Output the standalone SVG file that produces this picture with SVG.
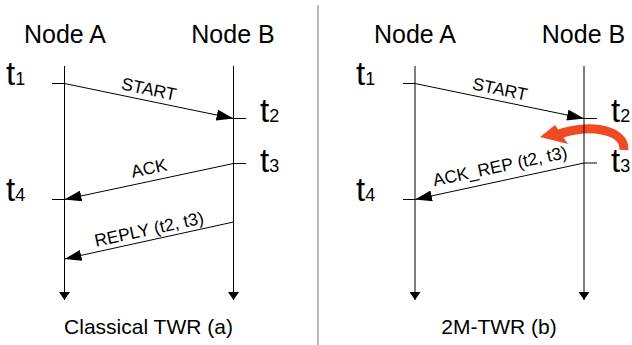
<svg xmlns="http://www.w3.org/2000/svg" width="632" height="345" viewBox="0 0 632 345">
<style>
.lbl{font-family:"Liberation Sans",Arial,sans-serif;fill:#000}
.node{font-size:25px;text-anchor:middle}
.cap{font-size:21px;text-anchor:middle}
.msg{font-size:17.5px;text-anchor:middle}
.t{font-size:33px}
.sub{font-size:18px}
.life{stroke:#000;stroke-width:1;fill:none;marker-end:url(#down)}
.tick{stroke:#000;stroke-width:1}
.conn{stroke:#000;stroke-width:1;fill:none;marker-end:url(#head)}
</style>
<defs>
<marker id="head" markerUnits="userSpaceOnUse" markerWidth="17" markerHeight="11" refX="17" refY="5.5" orient="auto">
<path d="M0,0 L17,5.5 L0,11 z" fill="#000"/>
</marker>
<marker id="down" markerUnits="userSpaceOnUse" markerWidth="8" markerHeight="11" refX="8" refY="5.5" orient="auto">
<path d="M0,0 L8,5.5 L0,11 z" fill="#000"/>
</marker>
</defs>
<rect width="632" height="345" fill="#fff"/>
<line x1="318" y1="5" x2="318" y2="345" stroke="#777" stroke-width="1"/>

<g id="red-arrow">
<path d="M624 150 C625 127 583 124 557 135" fill="none" stroke="#EE4B22" stroke-width="9"/>
<polygon points="540,137 555,125 568,144" fill="#EE4B22"/>
</g>

<g id="a-nodeA">
<text class="lbl node" x="65" y="43">Node A</text>
<line class="life" x1="64.5" y1="66" x2="64.5" y2="300"/>
</g>
<g id="a-nodeB">
<text class="lbl node" x="233" y="43">Node B</text>
<line class="life" x1="233.5" y1="66" x2="233.5" y2="300"/>
</g>
<g id="b-nodeA">
<text class="lbl node" x="415" y="43">Node A</text>
<line class="life" x1="415" y1="66" x2="415" y2="300"/>
</g>
<g id="b-nodeB">
<text class="lbl node" x="583.5" y="43">Node B</text>
<line class="life" x1="584" y1="66" x2="584" y2="300"/>
</g>

<g id="times">
<text class="lbl t" x="6" y="85">t<tspan class="sub">1</tspan></text>
<text class="lbl t" x="260" y="122">t<tspan class="sub">2</tspan></text>
<text class="lbl t" x="260" y="172">t<tspan class="sub">3</tspan></text>
<text class="lbl t" x="6" y="201">t<tspan class="sub">4</tspan></text>
<text class="lbl t" x="356" y="85">t<tspan class="sub">1</tspan></text>
<text class="lbl t" x="611" y="122">t<tspan class="sub">2</tspan></text>
<text class="lbl t" x="611" y="172">t<tspan class="sub">3</tspan></text>
<text class="lbl t" x="356" y="201">t<tspan class="sub">4</tspan></text>
</g>

<g id="connectors">
<line class="tick" x1="52" y1="83.5" x2="64.5" y2="83.5"/>
<line class="tick" x1="233.5" y1="118.5" x2="246" y2="118.5"/>
<line class="tick" x1="233.5" y1="163.5" x2="246" y2="163.5"/>
<line class="tick" x1="52" y1="199.5" x2="64.5" y2="199.5"/>
<line class="conn" x1="64.5" y1="83.5" x2="233.5" y2="118.5"/>
<line class="conn" x1="233.5" y1="163.5" x2="64.5" y2="199.5"/>
<line class="conn" x1="233.5" y1="222" x2="64.5" y2="259"/>
<line class="tick" x1="403" y1="83.5" x2="415" y2="83.5"/>
<line class="tick" x1="584" y1="118.5" x2="597" y2="118.5"/>
<line class="tick" x1="584" y1="163" x2="597" y2="163"/>
<line class="tick" x1="403" y1="199.5" x2="415" y2="199.5"/>
<line class="conn" x1="415" y1="83.5" x2="584" y2="118.5"/>
<line class="conn" x1="584" y1="163" x2="415" y2="199.5"/>
<text class="lbl msg" x="147.8" y="95" transform="rotate(11.7 147.8 95)">START</text>
<text class="lbl msg" x="150.2" y="174" transform="rotate(-12 150.2 174)">ACK</text>
<text class="lbl msg" x="150.3" y="235" transform="rotate(-12.3 150.3 235)">REPLY (t2, t3)</text>
<text class="lbl msg" x="498.8" y="95" transform="rotate(11.7 498.8 95)">START</text>
<text class="lbl msg" x="501.2" y="172" transform="rotate(-12 501.2 172)">ACK_REP (t2, t3)</text>
</g>

<text class="lbl cap" x="148.5" y="334">Classical TWR (a)</text>
<text class="lbl cap" x="499" y="334">2M-TWR (b)</text>
</svg>
